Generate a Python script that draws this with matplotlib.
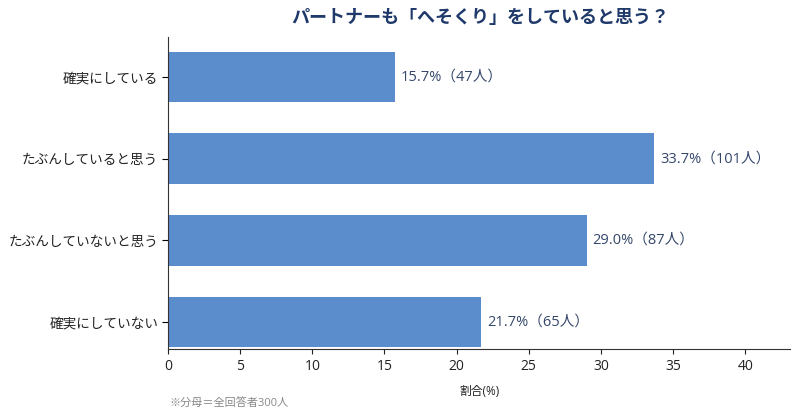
import matplotlib
matplotlib.use('Agg')
import matplotlib.pyplot as plt

plt.rcParams['font.family'] = ['Open Sans', 'Noto Sans CJK JP', 'DejaVu Sans']

categorias = ['確実にしている', 'たぶんしていると思う', 'たぶんしていないと思う', '確実にしていない']
percentuais = [15.7, 33.7, 29.0, 21.7]
pessoas = [47, 101, 87, 65]
xticks = [0, 5, 10, 15, 20, 25, 30, 35, 40]

fig = plt.figure(figsize=(8, 4.2), dpi=100)
ax = fig.add_axes([0.21, 0.169, 0.7775, 0.743])

pos = list(range(len(categorias)))
ax.barh(pos, percentuais, height=0.62, color='#5b8ccc')
for p, v, n in zip(pos, percentuais, pessoas):
    ax.text(v + 0.4, p, f'{v:.1f}%（{n}人）', va='center', ha='left',
            fontsize=10.5, color='#34476b')

ax.set_yticks(pos)
ax.set_yticklabels(categorias, fontsize=9.8, color='#222222')
ax.set_ylim(3.33, -0.49)
ax.set_xlim(0, 43.1)
ax.set_xticks(xticks)
ax.tick_params(axis='x', labelsize=10, colors='#222222')
ax.tick_params(axis='y', length=4, pad=3)
ax.set_xlabel('割合(%)', fontsize=8.5, color='#222222', labelpad=8)

for s in ['top', 'right']:
    ax.spines[s].set_visible(False)
ax.spines['left'].set_color('#333333')
ax.spines['bottom'].set_color('#333333')

fig.text(0.6, 0.958, 'パートナーも「へそくり」をしていると思う？', ha='center', va='center',
         fontsize=13, fontweight='bold', color='#1f3a6a')
fig.text(0.212, 0.038, '※分母＝全回答者300人', ha='left', va='center',
         fontsize=8, color='#888888')

fig.savefig('out.png', dpi=100)
